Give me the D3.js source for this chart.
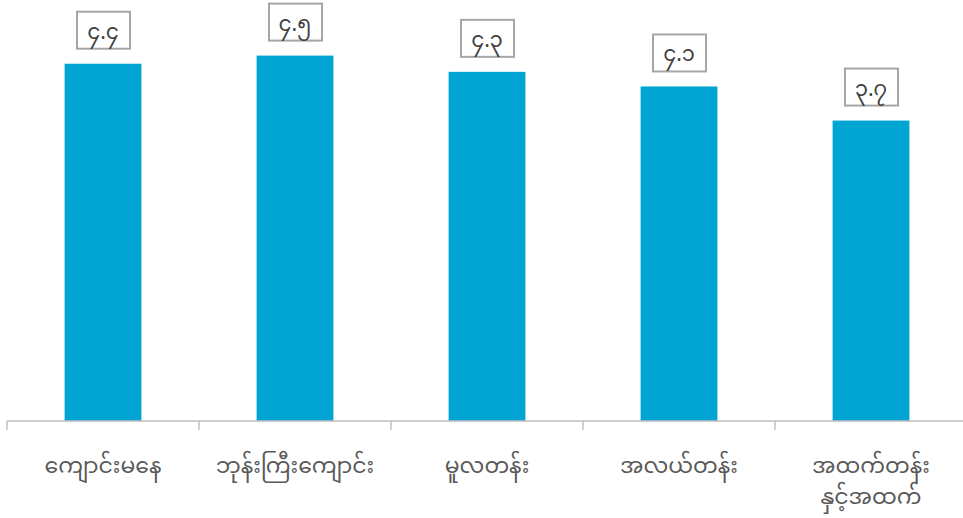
<!DOCTYPE html>
<html><head><meta charset="utf-8">
<script src="https://cdn.jsdelivr.net/npm/d3@7"></script>
<style>
html,body{margin:0;padding:0;background:#fff;}
svg{display:block;}
text{font-family:"Noto Sans Myanmar","Noto Sans","DejaVu Sans",sans-serif;}
</style></head>
<body><svg id="chart" width="963" height="518"></svg>
<script>
const categories = [["ကျောင်းမနေ"], ["ဘုန်းကြီးကျောင်း"], ["မူလတန်း"], ["အလယ်တန်း"], ["အထက်တန်း", "နှင့်အထက်"]];
const values = [4.4, 4.5, 4.3, 4.12, 3.7];
const valueLabels = ["၄.၄", "၄.၅", "၄.၃", "၄.၁", "၃.၇"];

const svg = d3.select("#chart");
const x = d3.scaleBand().domain(d3.range(categories.length)).range([7, 967]).paddingInner(0).paddingOuter(0);
const y = d3.scaleLinear().domain([0, 5]).range([421, 15]);
const bw = x.bandwidth() * 0.4;

svg.selectAll("rect.bar").data(values).join("rect").attr("class","bar")
  .attr("x",(d,i)=>x(i)+x.bandwidth()/2-bw/2).attr("width",bw)
  .attr("y",d=>y(d)).attr("height",d=>y(0)-y(d)).attr("fill","#00a5d4");

const ax = svg.append("g").attr("transform","translate(0,421)");
ax.append("line").attr("x1",7).attr("x2",967).attr("stroke","#bfbfbf").attr("stroke-width",1.5);
ax.selectAll("line.tick").data(d3.range(categories.length+1)).join("line").attr("class","tick")
  .attr("x1",i=>i<categories.length?x(i):x(i-1)+x.bandwidth()).attr("x2",i=>i<categories.length?x(i):x(i-1)+x.bandwidth())
  .attr("y1",0).attr("y2",9).attr("stroke","#bfbfbf").attr("stroke-width",1.5);

const lab = svg.selectAll("text.cat").data(categories).join("text").attr("class","cat")
  .attr("text-anchor","middle").attr("fill","#595959").attr("font-size",22);
lab.each(function(d,i){
  const t=d3.select(this);
  d.forEach((s,j)=>t.append("tspan").attr("x",x(i)+x.bandwidth()/2).attr("y",473+j*31).text(s));
});

const g = svg.selectAll("g.vl").data(values).join("g").attr("class","vl")
  .attr("transform",(d,i)=>`translate(${x(i)+x.bandwidth()/2},${y(d)-15})`);
g.append("rect").attr("x",-26).attr("y",-37).attr("width",53).attr("height",37)
  .attr("fill","#fff").attr("stroke","#a6a6a6").attr("stroke-width",2);
g.append("text").attr("text-anchor","middle").attr("y",-10).attr("font-size",21).attr("fill","#404040")
  .text((d,i)=>valueLabels[i]);
</script></body></html>
